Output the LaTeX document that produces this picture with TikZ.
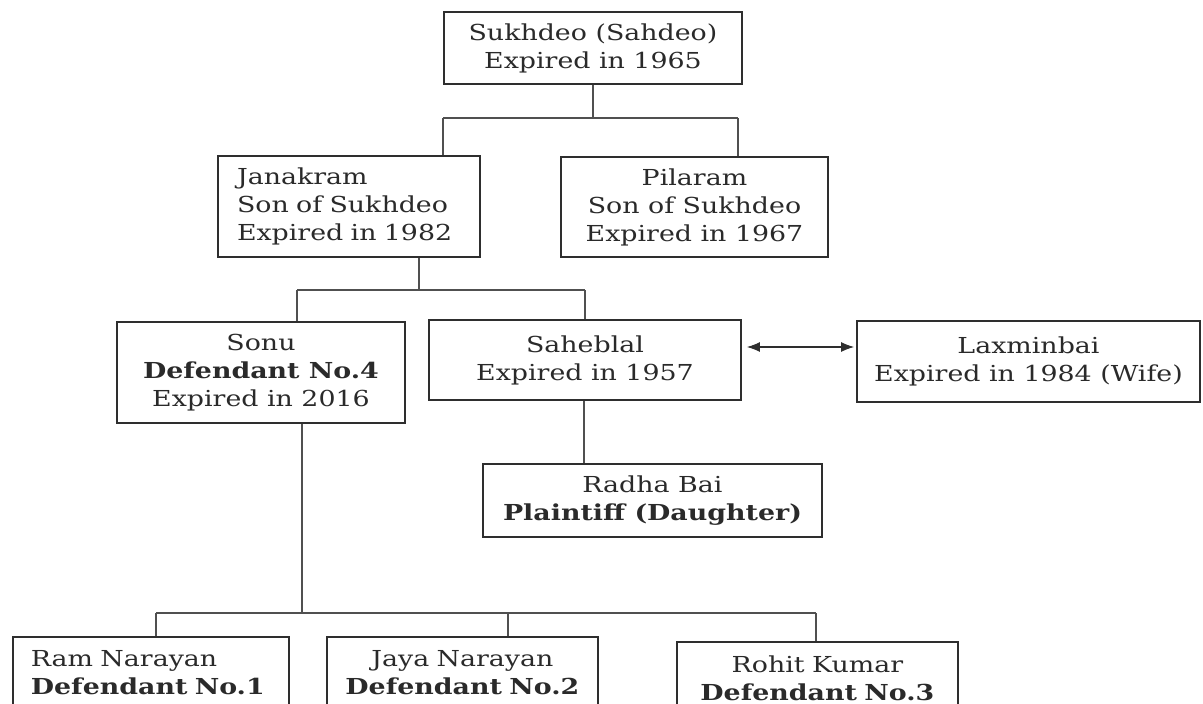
\documentclass[tikz,border=0pt]{standalone}
\usepackage{fontspec}
\setmainfont{DejaVu Serif}[FakeStretch=1.22]
\usetikzlibrary{arrows.meta}
\definecolor{ink}{HTML}{2E2E2E}
\definecolor{txt}{HTML}{2A2A2A}
\definecolor{conn}{HTML}{505050}
\begin{document}
\begin{tikzpicture}[x=1pt,y=-1pt,
  box/.style={draw=ink, line width=1.8pt, rectangle, inner sep=0pt, align=center,
    text=txt, font=\fontsize{22}{28}\selectfont},
  link/.style={draw=conn, line width=1.2pt},
  twohead/.style={draw=ink, line width=1.1pt, {Latex[length=13pt,width=10pt]}-{Latex[length=13pt,width=10pt]}}]
\useasboundingbox (0,0) rectangle (1203,704);
\clip (0,0) rectangle (1203,704);

% boxes
\node[box, minimum width=298pt, minimum height=72pt] (suk) at (593,48)
  {Sukhdeo (Sahdeo)\\Expired in 1965};
\node[box, minimum width=262pt, minimum height=101pt, text width=224pt, align=left] (jan) at (349,206.5)
  {Janakram\\Son of Sukhdeo\\Expired in 1982};
\node[box, minimum width=267pt, minimum height=100pt] (pil) at (694.5,207)
  {Pilaram\\Son of Sukhdeo\\Expired in 1967};
\node[box, minimum width=288pt, minimum height=101pt] (sonu) at (261,372.5)
  {Sonu\\\textbf{Defendant No.4}\\Expired in 2016};
\node[box, minimum width=312pt, minimum height=80pt] (sah) at (585,360)
  {Saheblal\\Expired in 1957};
\node[box, minimum width=343pt, minimum height=81pt] (lax) at (1028.5,361.5)
  {Laxminbai\\Expired in 1984 (Wife)};
\node[box, minimum width=339pt, minimum height=73pt] (radha) at (652.5,500.5)
  {Radha Bai\\\textbf{Plaintiff (Daughter)}};

\node[box, anchor=north west, minimum width=273pt, text width=240pt, align=left, inner ysep=14pt, inner xsep=18pt] (ram) at (12,636)
  {Ram Narayan\\\textbf{Defendant No.1}\\\rule{0pt}{40pt}};
\node[box, anchor=north west, minimum width=271pt, text width=271pt, inner ysep=14pt] (jaya) at (326,636)
  {Jaya Narayan\\\textbf{Defendant No.2}\\\rule{0pt}{40pt}};
\node[box, anchor=north west, minimum width=281pt, text width=281pt, inner ysep=14pt] (rohit) at (676,641)
  {Rohit Kumar\\\textbf{Defendant No.3}\\\rule{0pt}{40pt}};

% junction coordinates
\coordinate (b1L) at (443,118);
\coordinate (b1R) at (738,118);
\coordinate (j1)  at (419,290);
\coordinate (b2L) at (297,290);
\coordinate (b2R) at (585,290);
\coordinate (s1)  at (302,613);
\coordinate (b3L) at (156,613);
\coordinate (b3M) at (508,613);
\coordinate (b3R) at (816,613);
\coordinate (ar)  at (0,347);

% connectors
\draw[link] (suk.south) -- (suk.south |- b1L);
\draw[link] (b1L) -- (b1R);
\draw[link] (b1L) -- (b1L |- jan.north);
\draw[link] (b1R) -- (b1R |- pil.north);

\draw[link] (j1 |- jan.south) -- (j1);
\draw[link] (b2L) -- (b2R);
\draw[link] (b2L) -- (b2L |- sonu.north);
\draw[link] (b2R) -- (b2R |- sah.north);

\draw[link] ([xshift=-1pt]sah.south) -- ([xshift=-1pt]sah.south |- radha.north);

\draw[twohead] ([xshift=5pt]sah.east |- ar) -- ([xshift=-2pt]lax.west |- ar);

\draw[link] (s1 |- sonu.south) -- (s1);
\draw[link] (b3L) -- (b3R);
\draw[link] (b3L) -- (b3L |- ram.north);
\draw[link] (b3M) -- (b3M |- jaya.north);
\draw[link] (b3R) -- (b3R |- rohit.north);
\end{tikzpicture}
\end{document}
